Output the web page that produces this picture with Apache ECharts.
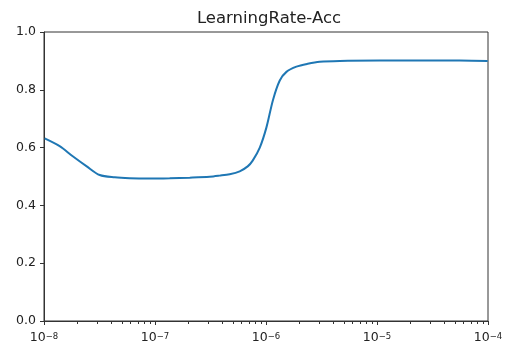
<!DOCTYPE html>
<html>
<head>
<meta charset="utf-8">
<script src="https://cdn.jsdelivr.net/npm/echarts@6/dist/echarts.min.js"></script>
<style>html,body{margin:0;padding:0;background:#fff}#c{width:506px;height:345px}</style>
</head>
<body>
<div id="c"></div>
<script>
// Data
const titleText = 'LearningRate-Acc';
// log10 of learning rate
const logLR = [-7.994, -7.859, -7.741, -7.615, -7.498, -7.362, -7.228, -7.048, -6.868, -6.687, -6.507, -6.417, -6.327, -6.237, -6.165, -6.120, -6.056, -5.996, -5.937, -5.876, -5.816, -5.726, -5.624, -5.516, -5.336, -4.975, -4.615, -4.255, -4.003];
const acc   = [0.632, 0.605, 0.570, 0.535, 0.505, 0.497, 0.494, 0.493, 0.494, 0.496, 0.499, 0.503, 0.508, 0.518, 0.535, 0.555, 0.600, 0.670, 0.765, 0.832, 0.862, 0.880, 0.890, 0.897, 0.900, 0.901, 0.901, 0.901, 0.900];
const xMajorExp = [-8, -7, -6, -5, -4];
const yTicks = [0.0, 0.2, 0.4, 0.6, 0.8, 1.0];
const minorMult = [2, 3, 4, 5, 6, 7, 8, 9];

const minorVals = [];
for (let e = -8; e < -4; e++) for (const m of minorMult) minorVals.push(m * Math.pow(10, e));

const seriesData = logLR.map((e, i) => [Math.pow(10, e), acc[i]]);
const chart = echarts.init(document.getElementById('c'), null, {renderer: 'canvas'});
const font = 'DejaVu Sans';
chart.setOption({
  animation: false,
  backgroundColor: '#fff',
  title: {
    text: titleText, left: 269, textAlign: 'center', top: 10, padding: 0,
    textStyle: {fontFamily: font, fontSize: 16.5, fontWeight: 'normal', color: '#222'}
  },
  grid: {left: 44, right: 18, top: 32, bottom: 24, show: true, borderColor: '#333', borderWidth: 1, backgroundColor: 'transparent'},
  xAxis: {
    type: 'log', logBase: 10, min: 1e-8, max: 1e-4, position: 'bottom',
    axisLine: {show: true, onZero: false, lineStyle: {color: '#333', width: 1}},
    axisTick: {show: true, inside: false, length: 4, lineStyle: {color: '#333'}},
    splitLine: {show: false},
    minorTick: {show: false},
    axisLabel: {
      margin: 9, color: '#222', fontFamily: font,
      formatter: function (v) {
        const e = Math.round(Math.log10(v));
        return '{b|10}{s|' + String(e).replace('-', '\u2212') + '}';
      },
      rich: {
        b: {fontSize: 12.5, lineHeight: 14, fontFamily: font, color: '#222', verticalAlign: 'bottom'},
        s: {fontSize: 8.5, lineHeight: 14, fontFamily: font, color: '#222', verticalAlign: 'bottom', padding: [0, 0, 3, 0]}
      }
    }
  },
  yAxis: {
    type: 'value', min: 0, max: 1, interval: 0.2,
    axisLine: {show: true, lineStyle: {color: '#333', width: 1}},
    axisTick: {show: true, inside: false, length: 4, lineStyle: {color: '#333'}},
    splitLine: {show: false},
    axisLabel: {margin: 8, color: '#222', fontFamily: font, fontSize: 12.5, formatter: v => v.toFixed(1)}
  },
  series: [{
    type: 'line', data: seriesData, showSymbol: false, smooth: 0.3,
    lineStyle: {color: '#1f77b4', width: 2}, itemStyle: {color: '#1f77b4'}, z: 3
  }]
});

// Minor log ticks (2..9 x 10^n), positioned through the chart's own x scale
const minorGraphics = minorVals.map(function (v) {
  const p = chart.convertToPixel({xAxisIndex: 0, yAxisIndex: 0}, [v, 0]);
  const x = Math.round(p[0]) + 0.5;
  const y = Math.round(p[1]);
  return {type: 'line', silent: true, z: 10,
    shape: {x1: x, y1: y, x2: x, y2: y + 3},
    style: {stroke: '#333', lineWidth: 1}};
});
chart.setOption({graphic: {elements: minorGraphics}});
</script>
</body>
</html>
